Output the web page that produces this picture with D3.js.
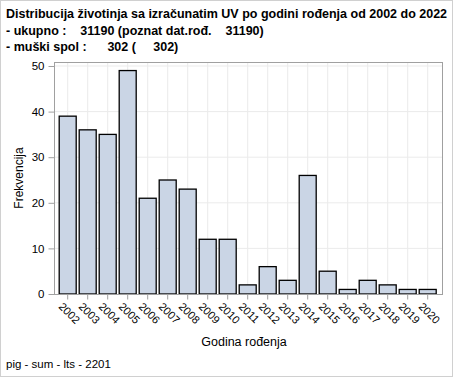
<!DOCTYPE html>
<html><head><meta charset="utf-8">
<script src="https://cdn.jsdelivr.net/npm/d3@7"></script>
<style>body{margin:0;background:#fff}svg{display:block}text{font-family:"Liberation Sans",Arial,sans-serif}</style>
</head><body>
<script>
const years = ["2002","2003","2004","2005","2006","2007","2008","2009","2010","2011","2012","2013","2014","2015","2016","2017","2018","2019","2020"];
const counts = [39,36,35,49,21,25,23,12,12,2,6,3,26,5,1,3,2,1,1];
const yTicks = [0,10,20,30,40,50];
const titleLines = [
  "Distribucija životinja sa izračunatim UV po godini rođenja od 2002 do 2022",
  "- ukupno :    31190 (poznat dat.rođ.    31190)",
  "- muški spol :      302 (     302)"
];
const xLabel = "Godina rođenja";
const yLabel = "Frekvencija";
const footnote = "pig - sum - lts - 2201";

const W = 454, H = 378;
const svg = d3.select("body").append("svg").attr("width", W).attr("height", H);
svg.append("rect").attr("x",0.5).attr("y",0.5).attr("width",W-2).attr("height",H-2)
  .attr("fill","#fff").attr("stroke","#d0d0d0");

const pL = 54, pR = 442, pT = 62, pB = 294;
const x = d3.scaleBand().domain(years).range([pL + 3.7, pR - 4.3]).paddingInner(0.15).paddingOuter(0.075);
const y = d3.scaleLinear().domain([0, 50]).range([294, 66]);

// gridlines
const g = svg.append("g");
g.selectAll(".vg").data(years).join("line")
  .attr("x1", d => x(d) + x.bandwidth()/2).attr("x2", d => x(d) + x.bandwidth()/2)
  .attr("y1", pT).attr("y2", pB).attr("stroke", "#ebebeb").attr("stroke-width", 1);
g.selectAll(".hg").data(yTicks.filter(d => d > 0)).join("line")
  .attr("x1", pL).attr("x2", pR).attr("y1", d => y(d)).attr("y2", d => y(d))
  .attr("stroke", "#ebebeb").attr("stroke-width", 1);

// bars
svg.append("g").selectAll("rect").data(years).join("rect")
  .attr("x", (d) => x(d)).attr("width", x.bandwidth())
  .attr("y", (d,i) => y(counts[i])).attr("height", (d,i) => y(0) - y(counts[i]))
  .attr("fill", "#cad5e5").attr("stroke", "#000").attr("stroke-width", 1.3);

// frame
svg.append("rect").attr("x", pL+0.5).attr("y", pT+0.5).attr("width", pR-pL).attr("height", pB-pT)
  .attr("fill","none").attr("stroke","#a0a0a0").attr("stroke-width",1);

// y axis
const ya = svg.append("g").attr("transform", `translate(${pL+0.5},0)`)
  .call(d3.axisLeft(y).tickValues(yTicks).tickSize(6).tickPadding(4));
ya.select(".domain").remove();
ya.selectAll("line").attr("stroke","#a0a0a0");
ya.selectAll("text").attr("font-size", 11.5).attr("fill","#000").attr("font-family",'"Liberation Sans",Arial,sans-serif');

// x axis
const xa = svg.append("g").attr("transform", `translate(0,${pB+0.5})`)
  .call(d3.axisBottom(x).tickSize(5).tickPadding(2));
xa.select(".domain").remove();
xa.selectAll("line").attr("stroke","#a0a0a0");
xa.selectAll("text").attr("font-size", 11).attr("fill","#000").attr("font-family",'"Liberation Sans",Arial,sans-serif')
  .attr("text-anchor","start").attr("dy", null).attr("y", 0)
  .attr("transform", "translate(-4,7) rotate(45)").attr("dominant-baseline","hanging");

// titles
svg.append("g").selectAll("text").data(titleLines).join("text")
  .attr("x", 6).attr("y", (d,i) => 18 + i*16.5)
  .attr("font-size", 12.5).attr("font-weight", "bold").attr("xml:space","preserve")
  .style("white-space","pre").text(d => d);

svg.append("text").attr("x", 244).attr("y", 346).attr("text-anchor","middle")
  .attr("font-size", 12.5).text(xLabel);
svg.append("text").attr("transform", `translate(23,${(pT+pB)/2}) rotate(-90)`).attr("text-anchor","middle")
  .attr("font-size", 12).text(yLabel);
svg.append("text").attr("x", 6).attr("y", 368).attr("font-size", 11.5).text(footnote);
</script>
</body></html>
